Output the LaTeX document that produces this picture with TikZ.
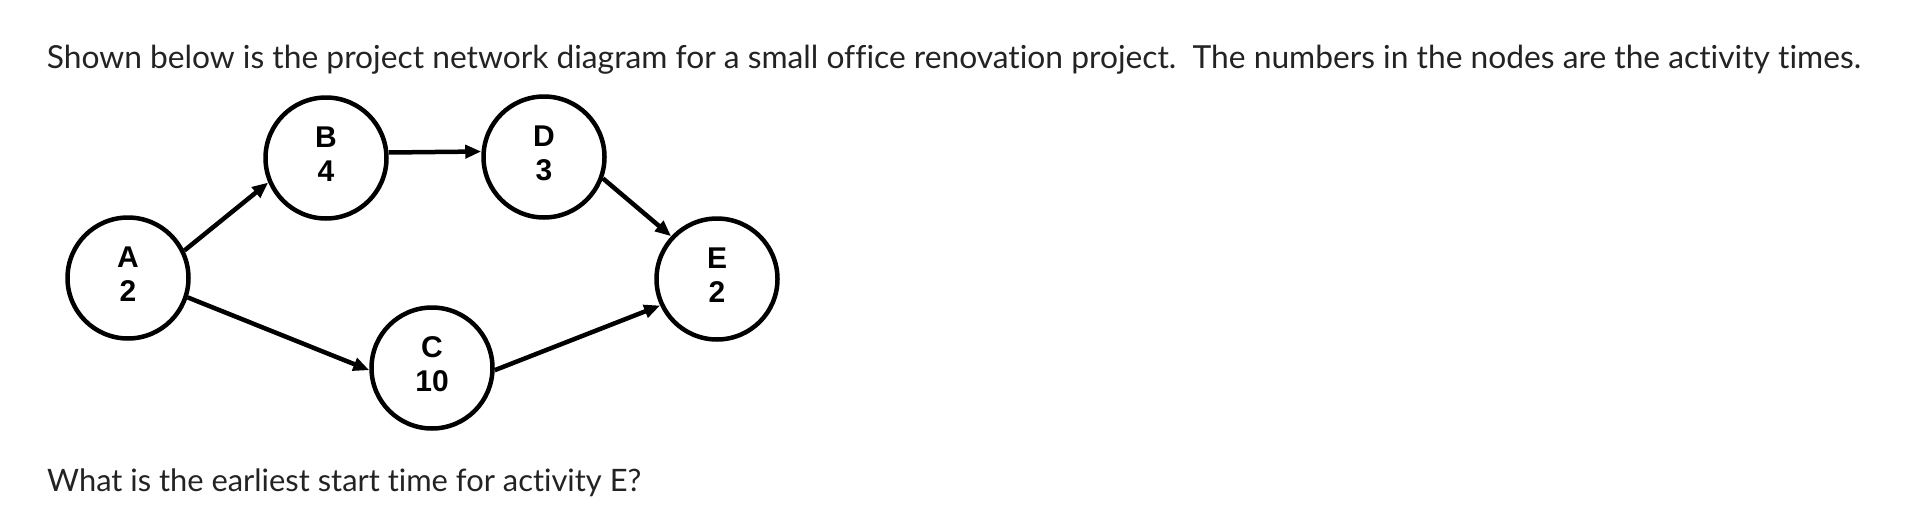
\documentclass[tikz,border=0pt]{standalone}
\usepackage{fontspec}
\setmainfont{Lato}[Ligatures={NoCommon}]
\newfontfamily\nodefont{Liberation Sans}[BoldFont={* Bold}]
\usetikzlibrary{arrows.meta}
\definecolor{txt}{RGB}{35,35,35}
\begin{document}
\begin{tikzpicture}[x=1pt,y=-1pt,
  circ/.style={circle,draw=black,line width=4.5pt,minimum size=121pt,inner sep=0pt,
    align=center,text depth=8pt,font=\nodefont\bfseries\fontsize{30pt}{33.5pt}\selectfont},
  conn/.style={line width=4.5pt,-{Triangle[length=16pt,width=13pt]}},
  para/.style={anchor=base west,inner sep=0pt,text=txt}]
\useasboundingbox[fill=white] (0,0) rectangle (1922,530);
\node[para] (top) at (46.7,68.3) {\resizebox{1814pt}{!}{\fontsize{30pt}{36pt}\selectfont Shown below is the project network diagram for a small office renovation project.\ \ The numbers in the nodes are the activity times.}};
\node[para] (bot) at (47,491) {\resizebox{594pt}{!}{\fontsize{30pt}{36pt}\selectfont What is the earliest start time for activity E?}};
\node[circ] (A) at (128,278) {A\\2};
\node[circ] (B) at (326,158) {B\\4};
\node[circ] (D) at (544,157) {D\\3};
\node[circ] (C) at (432,368) {C\\10};
\node[circ] (E) at (717,279) {E\\2};
\draw[conn] (A.26) -- (B.-157);
\draw[conn] ([yshift=5.5pt]B.east) -- ([yshift=5.5pt]D.west);
\draw[conn] (D.-20) -- (E.137);
\draw[conn] (A.-18) -- (C.182);
\draw[conn] (C.-2) -- (E.205);
\end{tikzpicture}
\end{document}
